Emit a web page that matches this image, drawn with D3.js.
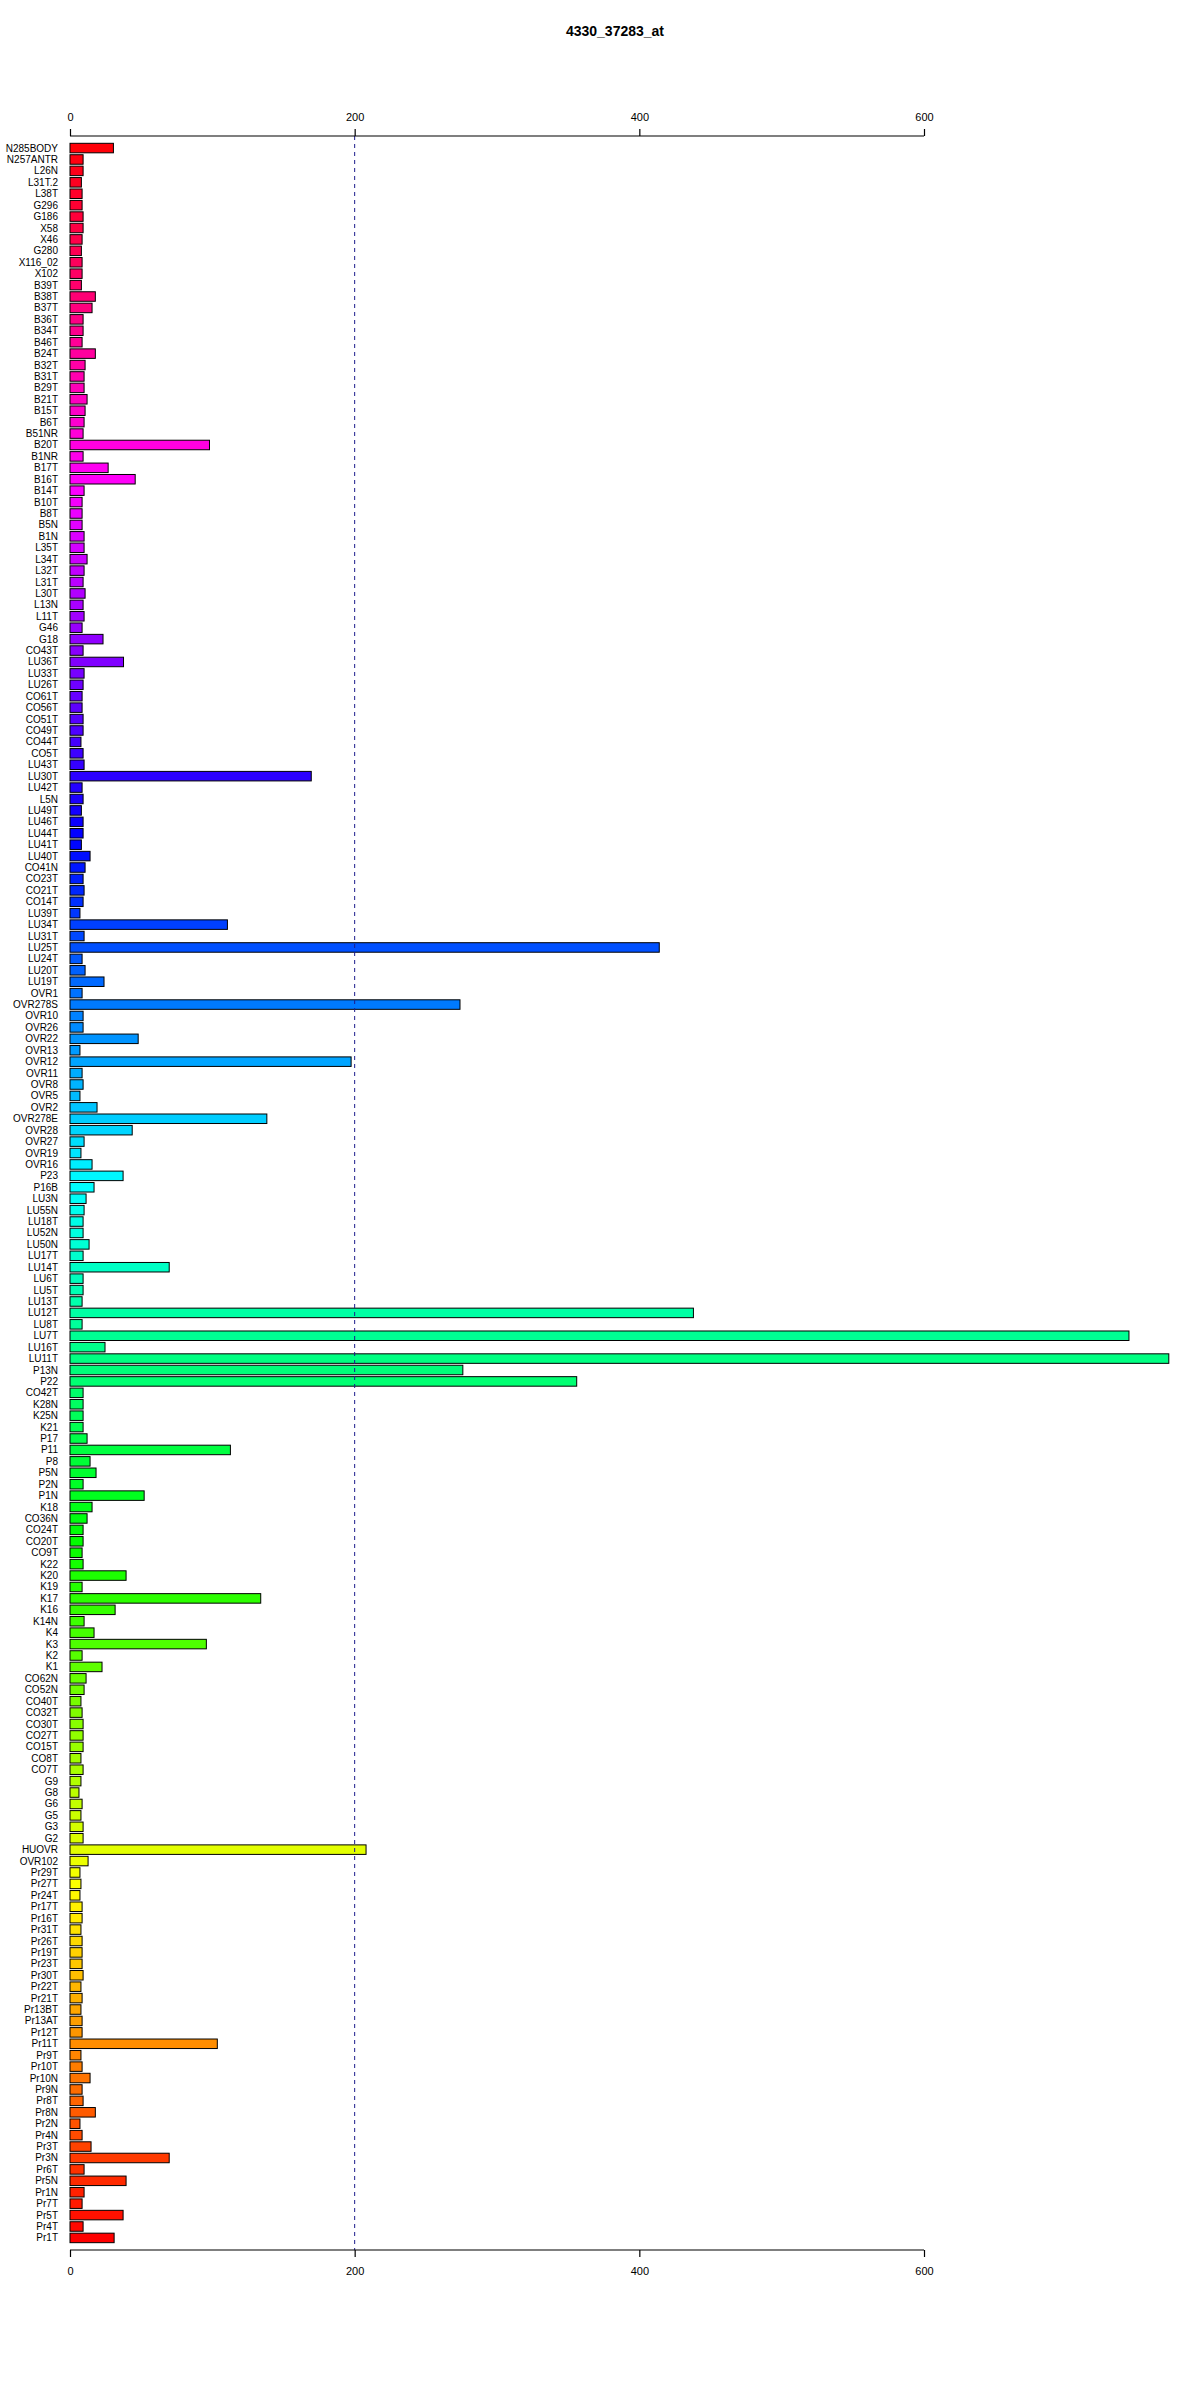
<!DOCTYPE html>
<html>
<head>
<meta charset="utf-8">
<script src="https://cdn.jsdelivr.net/npm/d3@7"></script>
<style>
  html, body { margin: 0; padding: 0; background: #ffffff; overflow: hidden; }
  svg { display: block; }
  text { font-family: "Liberation Sans", Arial, sans-serif; }
</style>
</head>
<body>
<svg id="chart" width="1200" height="2400"></svg>
<script>
const title = "4330_37283_at";

const categories = [
  "N285BODY","N257ANTR","L26N","L31T.2","L38T","G296","G186","X58","X46","G280",
  "X116_02","X102","B39T","B38T","B37T","B36T","B34T","B46T","B24T","B32T",
  "B31T","B29T","B21T","B15T","B6T","B51NR","B20T","B1NR","B17T","B16T",
  "B14T","B10T","B8T","B5N","B1N","L35T","L34T","L32T","L31T","L30T",
  "L13N","L11T","G46","G18","CO43T","LU36T","LU33T","LU26T","CO61T","CO56T",
  "CO51T","CO49T","CO44T","CO5T","LU43T","LU30T","LU42T","L5N","LU49T","LU46T",
  "LU44T","LU41T","LU40T","CO41N","CO23T","CO21T","CO14T","LU39T","LU34T","LU31T",
  "LU25T","LU24T","LU20T","LU19T","OVR1","OVR278S","OVR10","OVR26","OVR22","OVR13",
  "OVR12","OVR11","OVR8","OVR5","OVR2","OVR278E","OVR28","OVR27","OVR19","OVR16",
  "P23","P16B","LU3N","LU55N","LU18T","LU52N","LU50N","LU17T","LU14T","LU6T",
  "LU5T","LU13T","LU12T","LU8T","LU7T","LU16T","LU11T","P13N","P22","CO42T",
  "K28N","K25N","K21","P17","P11","P8","P5N","P2N","P1N","K18",
  "CO36N","CO24T","CO20T","CO9T","K22","K20","K19","K17","K16","K14N",
  "K4","K3","K2","K1","CO62N","CO52N","CO40T","CO32T","CO30T","CO27T",
  "CO15T","CO8T","CO7T","G9","G8","G6","G5","G3","G2","HUOVR",
  "OVR102","Pr29T","Pr27T","Pr24T","Pr17T","Pr16T","Pr31T","Pr26T","Pr19T","Pr23T",
  "Pr30T","Pr22T","Pr21T","Pr13BT","Pr13AT","Pr12T","Pr11T","Pr9T","Pr10T","Pr10N",
  "Pr9N","Pr8T","Pr8N","Pr2N","Pr4N","Pr3T","Pr3N","Pr6T","Pr5N","Pr1N",
  "Pr7T","Pr5T","Pr4T","Pr1T"
];

const values = [
  30.5, 9.2, 9.2, 8.0, 8.5, 8.5, 9.2, 9.2, 8.5, 8.0,
  8.5, 8.5, 8.0, 17.8, 15.5, 9.2, 9.2, 8.5, 17.8, 10.6,
  9.9, 9.9, 12.0, 10.6, 9.9, 9.2, 98.0, 9.2, 26.8, 45.8,
  9.9, 8.5, 8.5, 8.5, 9.9, 9.9, 12.0, 9.9, 9.2, 10.6,
  9.2, 9.9, 8.5, 23.2, 9.2, 37.6, 9.9, 9.2, 8.5, 8.5,
  9.2, 9.2, 7.7, 9.2, 9.9, 169.5, 8.5, 9.2, 8.0, 9.2,
  9.2, 8.0, 14.1, 10.6, 9.2, 9.9, 9.2, 7.0, 110.6, 9.9,
  414.0, 8.5, 10.6, 23.9, 8.5, 274.0, 9.2, 9.2, 47.9, 7.0,
  197.5, 8.5, 9.2, 7.0, 19.0, 138.3, 43.7, 9.9, 7.7, 15.5,
  37.3, 16.9, 11.3, 9.9, 9.2, 9.2, 13.4, 9.2, 69.7, 9.2,
  9.2, 8.5, 438.0, 8.5, 744.0, 24.6, 772.0, 276.0, 356.0, 9.2,
  9.2, 9.2, 9.2, 12.0, 112.7, 14.1, 18.3, 9.2, 52.1, 15.5,
  12.0, 9.2, 9.2, 8.5, 9.2, 39.4, 8.5, 134.0, 31.7, 9.9,
  16.9, 95.8, 8.5, 22.5, 11.3, 9.9, 7.7, 8.5, 9.2, 9.2,
  9.2, 7.7, 9.2, 7.7, 6.3, 8.5, 7.7, 9.2, 9.2, 208.0,
  12.7, 7.0, 7.7, 7.0, 8.5, 8.5, 7.7, 8.5, 8.5, 8.5,
  9.2, 7.7, 8.5, 7.7, 8.5, 8.5, 103.5, 7.7, 8.5, 14.1,
  8.5, 9.2, 17.8, 7.0, 8.5, 14.8, 69.7, 9.9, 39.4, 9.9,
  8.5, 37.3, 9.2, 31.0
];

const tickValues = [0, 200, 400, 600];
const refLineValue = [200];

const svg = d3.select("#chart");
const n = categories.length;

const x = d3.scaleLinear().domain([0, 600]).range([70, 924]);
const y = d3.scaleBand()
  .domain(categories)
  .range([142.35, 142.35 + n * 11.42])
  .paddingInner(0.2 / 1.2)
  .paddingOuter(0.1 / 1.2);

// rainbow colours, reversed (R style rainbow(n) assigned bottom-up)
const colour = (i) => d3.hsl(((n - 1 - i) / n) * 360, 1, 0.5).formatHex();

// title
svg.append("text")
  .attr("x", 615).attr("y", 36)
  .attr("text-anchor", "middle")
  .attr("font-size", 14).attr("font-weight", "bold")
  .text(title);

// bars
svg.append("g").selectAll("rect")
  .data(categories)
  .join("rect")
  .attr("x", x(0))
  .attr("y", d => y(d))
  .attr("width", (d, i) => x(values[i]) - x(0))
  .attr("height", y.bandwidth())
  .attr("fill", (d, i) => colour(i))
  .attr("stroke", "#000")
  .attr("stroke-width", 1);

// category labels
svg.append("g").selectAll("text")
  .data(categories)
  .join("text")
  .attr("x", 58)
  .attr("y", d => y(d) + y.bandwidth() / 2)
  .attr("dy", "0.35em")
  .attr("text-anchor", "end")
  .attr("font-size", 10)
  .attr("fill", "#000")
  .text(d => d);

// reference line
svg.append("g").selectAll("line")
  .data(refLineValue)
  .join("line")
  .attr("x1", d => x(d)).attr("x2", d => x(d))
  .attr("y1", 136).attr("y2", 2250)
  .attr("stroke", "#1c1c8c")
  .attr("stroke-width", 1)
  .attr("stroke-dasharray", "4,4");

// axes
const topAxis = d3.axisTop(x).tickValues(tickValues).tickSize(7).tickPadding(8).tickFormat(d3.format("d"));
const bottomAxis = d3.axisBottom(x).tickValues(tickValues).tickSize(7).tickPadding(10).tickFormat(d3.format("d"));

const gTop = svg.append("g").attr("transform", "translate(0,136)").call(topAxis);
const gBot = svg.append("g").attr("transform", "translate(0,2250)").call(bottomAxis);
[gTop, gBot].forEach(g => {
  g.select(".domain").attr("stroke", "#000").attr("stroke-width", 1.2)
    .attr("d", `M${x(0)},0H${x(600)}`);
  g.selectAll(".tick line").attr("stroke", "#000").attr("stroke-width", 1.2);
  g.selectAll(".tick text").attr("font-size", 11).attr("fill", "#000")
    .attr("font-family", "Liberation Sans, Arial, sans-serif");
});
</script>
</body>
</html>
